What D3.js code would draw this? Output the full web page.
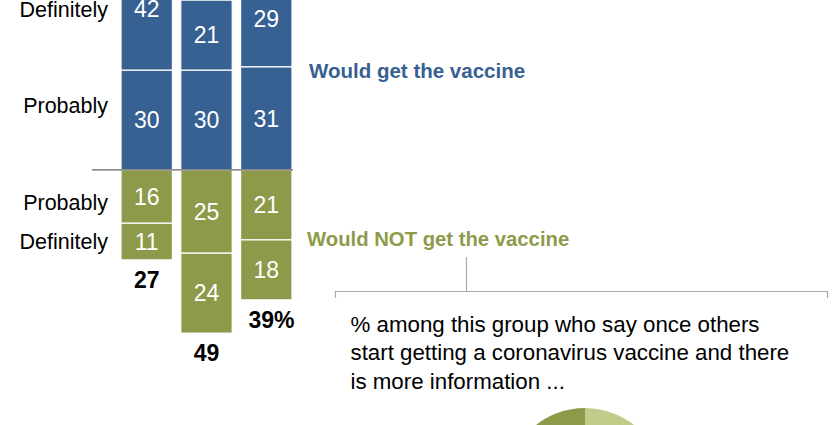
<!DOCTYPE html>
<html><head><meta charset="utf-8">
<script src="https://cdn.jsdelivr.net/npm/d3@7"></script>
<style>
html,body{margin:0;padding:0;background:#fff;}
svg{display:block;font-family:"Liberation Sans",Arial,sans-serif;}
</style></head>
<body>
<svg id="c" width="840" height="425"></svg>
<script>
// ---- data ----
const categories = ["May", "Sept", "Nov"];
const wouldDefinitely = [42, 21, 29];
const wouldProbably = [30, 30, 31];
const notProbably = [16, 25, 21];
const notDefinitely = [11, 24, 18];
const notTotals = ["27", "49", "39"];
const rowLabels = ["Definitely", "Probably", "Probably", "Definitely"];
const groupLabels = ["Would get the vaccine", "Would NOT get the vaccine"];
const noteLines = ["% among this group who say once others",
                   "start getting a coronavirus vaccine and there",
                   "is more information ..."];
const pieValues = [52, 48];

// ---- style ----
const BLUE = "#376093", GREEN = "#8D9A4A", LIGHTGREEN = "#C3CB8B";
const svg = d3.select("#c");

const x = d3.scaleBand().domain(categories).range([121, 292]).paddingInner(0.14);
const y = d3.scaleLinear().domain([-51, 72]).range([339.8, -69.8]);

// stacked segments
const segs = [];
categories.forEach((c, i) => {
  segs.push({c, v: wouldProbably[i], y0: 0, y1: wouldProbably[i], color: BLUE});
  segs.push({c, v: wouldDefinitely[i], y0: wouldProbably[i], y1: wouldProbably[i] + wouldDefinitely[i], color: BLUE});
  segs.push({c, v: notProbably[i], y0: -notProbably[i], y1: 0, color: GREEN});
  segs.push({c, v: notDefinitely[i], y0: -notProbably[i] - notDefinitely[i], y1: -notProbably[i], color: GREEN});
});

svg.append("g").selectAll("rect").data(segs).join("rect")
  .attr("x", d => x(d.c))
  .attr("width", x.bandwidth())
  .attr("y", d => y(d.y1))
  .attr("height", d => y(d.y0) - y(d.y1))
  .attr("fill", d => d.color)
  .attr("stroke", "#fff").attr("stroke-width", 1.2);

// value labels, centred in the segment but kept inside the visible area
svg.append("g").selectAll("text").data(segs).join("text")
  .attr("x", d => x(d.c) + x.bandwidth() / 2)
  .attr("y", d => Math.max((y(d.y0) + y(d.y1)) / 2, 9))
  .attr("dy", "0.36em")
  .attr("text-anchor", "middle")
  .attr("fill", "#fff")
  .attr("font-size", 23)
  .text(d => d.v);

// baseline
svg.append("line").attr("x1", 92).attr("x2", 293)
  .attr("y1", y(0)).attr("y2", y(0))
  .attr("stroke", "#666").attr("stroke-width", 1.2);

// row labels aligned with first column's segments
const rowYs = [
  (y(wouldProbably[0]) + y(wouldProbably[0] + wouldDefinitely[0])) / 2,
  (y(0) + y(wouldProbably[0])) / 2,
  (y(0) + y(-notProbably[0])) / 2,
  (y(-notProbably[0]) + y(-notProbably[0] - notDefinitely[0])) / 2
];
const rowNudge = [9, -15, 6, 0];
svg.append("g").selectAll("text").data(rowLabels).join("text")
  .attr("x", 108)
  .attr("y", (d, i) => rowYs[i] + rowNudge[i])
  .attr("dy", "0.36em")
  .attr("text-anchor", "end")
  .attr("fill", "#000")
  .attr("font-size", 21.5)
  .text(d => d);

// totals of "would not"
categories.forEach((c, i) => {
  const bottom = y(-notProbably[i] - notDefinitely[i]);
  const last = i === categories.length - 1;
  const t = svg.append("text")
    .attr("x", x(c) + x.bandwidth() / 2)
    .attr("y", bottom + 28)
    .attr("text-anchor", "middle")
    .attr("font-weight", "bold")
    .attr("font-size", 23)
    .attr("fill", "#000")
    .text(notTotals[i] + (last ? "%" : ""));
  if (last) {
    const full = t.node().getComputedTextLength();
    t.text(notTotals[i]);
    const num = t.node().getComputedTextLength();
    t.text(notTotals[i] + "%");
    t.attr("x", x(c) + x.bandwidth() / 2 + (full - num) / 4);
  }
});

// group labels
svg.append("text").attr("x", 309).attr("y", 78)
  .attr("fill", BLUE).attr("font-weight", "bold").attr("font-size", 20.5)
  .text(groupLabels[0]);
svg.append("text").attr("x", 307).attr("y", 246)
  .attr("fill", GREEN).attr("font-weight", "bold").attr("font-size", 20.3)
  .text(groupLabels[1]);

// bracket
const br = svg.append("g").attr("stroke", "#aaa").attr("stroke-width", 1.2).attr("fill", "none");
br.append("line").attr("x1", 466.5).attr("x2", 466.5).attr("y1", 257).attr("y2", 291.5);
br.append("path").attr("d", "M335.5,298V291.5H827.5V298");

// note text
svg.append("g").selectAll("text").data(noteLines).join("text")
  .attr("x", 350.5)
  .attr("y", (d, i) => 332 + i * 28.3)
  .attr("font-size", 22.3)
  .attr("fill", "#000")
  .text(d => d);

// pie
const pie = d3.pie().sort(null).value(d => d)(pieValues);
const arc = d3.arc().innerRadius(0).outerRadius(79);
svg.append("g").attr("transform", "translate(585,487)")
  .selectAll("path").data(pie).join("path")
  .attr("d", arc)
  .attr("fill", (d, i) => i === 0 ? LIGHTGREEN : GREEN);
</script>
</body></html>
